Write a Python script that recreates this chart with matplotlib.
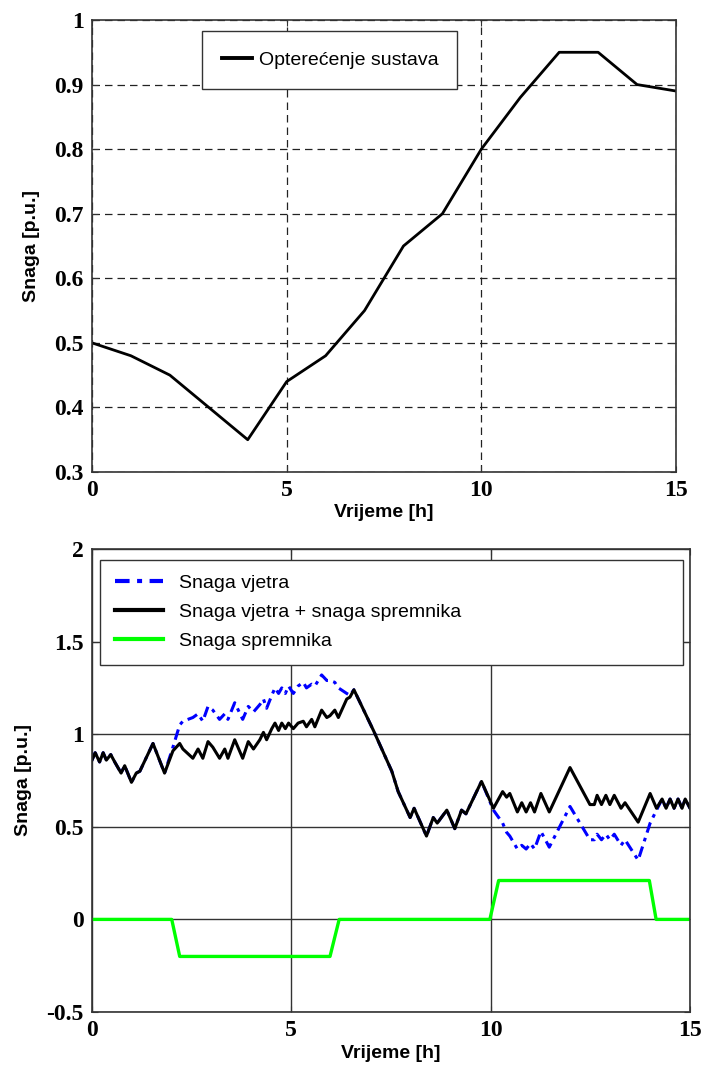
import matplotlib
matplotlib.use('Agg')
import matplotlib.pyplot as plt
from matplotlib.font_manager import FontProperties

# --- gornji graf: opterecenje sustava ---
sati = [0, 1, 2, 3, 4, 5, 6, 7, 8, 9, 10, 11, 12, 13, 14, 15]
opterecenje = [0.50, 0.48, 0.45, 0.40, 0.35, 0.44, 0.48, 0.55, 0.65, 0.70,
               0.80, 0.88, 0.95, 0.95, 0.90, 0.89]

# --- donji graf: snaga vjetra i spremnika ---
t_snaga = [0.00, 0.08, 0.19, 0.28, 0.36, 0.47, 0.57, 0.73, 0.82, 0.99,
           1.11, 1.20, 1.53, 1.82, 2.03, 2.20, 2.28, 2.53, 2.66, 2.78,
           2.91, 3.03, 3.20, 3.33, 3.41, 3.58, 3.78, 3.92, 4.05, 4.21,
           4.30, 4.38, 4.51, 4.59, 4.68, 4.76, 4.85, 4.93, 5.05, 5.17,
           5.30, 5.38, 5.51, 5.59, 5.76, 5.89, 5.97, 6.09, 6.18, 6.39,
           6.47, 6.57, 7.06, 7.52, 7.68, 7.98, 8.08, 8.39, 8.56, 8.66,
           8.90, 9.10, 9.27, 9.38, 9.77, 10.07, 10.30, 10.40, 10.48, 10.67,
           10.78, 10.89, 11.00, 11.10, 11.26, 11.47, 11.99, 12.49, 12.60, 12.67,
           12.78, 12.89, 12.99, 13.10, 13.27, 13.37, 13.70, 14.00, 14.16, 14.30,
           14.40, 14.50, 14.60, 14.70, 14.80, 14.88, 15.00]
snaga_ukupno = [0.86, 0.90, 0.85, 0.90, 0.86, 0.89, 0.85, 0.79, 0.83, 0.74,
                0.79, 0.80, 0.95, 0.79, 0.91, 0.95, 0.92, 0.87, 0.92, 0.87,
                0.96, 0.93, 0.87, 0.92, 0.87, 0.97, 0.87, 0.96, 0.92, 0.97,
                1.01, 0.97, 1.03, 1.06, 1.02, 1.06, 1.03, 1.06, 1.03, 1.06,
                1.07, 1.04, 1.08, 1.04, 1.13, 1.09, 1.10, 1.13, 1.09, 1.19,
                1.20, 1.24, 1.02, 0.80, 0.69, 0.55, 0.60, 0.45, 0.55, 0.52,
                0.59, 0.49, 0.59, 0.57, 0.745, 0.60, 0.69, 0.66, 0.68, 0.58,
                0.63, 0.58, 0.63, 0.58, 0.68, 0.58, 0.82, 0.62, 0.62, 0.67,
                0.62, 0.67, 0.62, 0.67, 0.60, 0.63, 0.525, 0.68, 0.60, 0.65,
                0.60, 0.65, 0.60, 0.65, 0.60, 0.65, 0.60]
snaga_vjetra = [0.86, 0.90, 0.85, 0.90, 0.86, 0.89, 0.85, 0.79, 0.83, 0.74,
                0.79, 0.80, 0.95, 0.79, 0.93, 1.05, 1.07, 1.09, 1.11, 1.07,
                1.15, 1.13, 1.08, 1.11, 1.08, 1.17, 1.08, 1.15, 1.12, 1.16,
                1.19, 1.14, 1.21, 1.25, 1.22, 1.25, 1.22, 1.26, 1.22, 1.26,
                1.28, 1.25, 1.27, 1.26, 1.32, 1.29, 1.29, 1.28, 1.25, 1.22,
                1.21, 1.24, 1.02, 0.80, 0.69, 0.55, 0.60, 0.45, 0.55, 0.52,
                0.59, 0.49, 0.59, 0.57, 0.745, 0.59, 0.52, 0.47, 0.45, 0.38,
                0.40, 0.38, 0.41, 0.38, 0.475, 0.39, 0.61, 0.43, 0.43, 0.46,
                0.43, 0.46, 0.43, 0.46, 0.40, 0.43, 0.32, 0.52, 0.59, 0.65,
                0.60, 0.65, 0.60, 0.65, 0.60, 0.65, 0.60]
t_spremnik = [0, 2.0, 2.2, 5.97, 6.2, 9.98, 10.2, 13.98, 14.15, 15]
snaga_spremnika = [0, 0, -0.2, -0.2, 0, 0, 0.21, 0.21, 0, 0]

oznake_x = ['0', '5', '10', '15']
oznake_y_gore = ['0.3', '0.4', '0.5', '0.6', '0.7', '0.8', '0.9', '1']
oznake_y_dolje = ['-0.5', '0', '0.5', '1', '1.5', '2']

tick_font = dict(family='Liberation Serif', weight='bold', size=17)
label_font = dict(family='Liberation Sans', weight='bold', size=14)
legend_font = dict(family='Liberation Sans', size=14)

fig = plt.figure(figsize=(7.04, 10.68), dpi=100)

def uredi_osi(ax, grid_ls, grid_color):
    for s in ax.spines.values():
        s.set_color('#333333')
        s.set_linewidth(1.2)
    ax.tick_params(direction='in', length=4, top=True, right=True, pad=6,
                   color='#333333')
    for lab in ax.get_xticklabels() + ax.get_yticklabels():
        lab.set_fontproperties(FontProperties(**tick_font))
    if grid_ls == 'dashed':
        ax.grid(True, color=grid_color, linewidth=0.9, linestyle=(0, (6, 4)))
    else:
        ax.grid(True, color=grid_color, linewidth=1.0, linestyle='-')
    ax.set_axisbelow(True)

# ---- GORNJI GRAF ----
ax1 = fig.add_axes([92/704, 1-472/1068, (676-92)/704, (472-20)/1068])
ax1.plot(sati, opterecenje, color='black', linewidth=2.0, label='Opterećenje sustava')
ax1.set_xlim(0, 15)
ax1.set_ylim(0.3, 1.0)
ax1.set_xticks([0, 5, 10, 15])
ax1.set_xticklabels(oznake_x)
ax1.set_yticks([0.3, 0.4, 0.5, 0.6, 0.7, 0.8, 0.9, 1.0])
ax1.set_yticklabels(oznake_y_gore)
uredi_osi(ax1, 'dashed', '#222222')
ax1.set_xlabel('Vrijeme [h]', labelpad=2, **label_font)
ax1.set_ylabel('Snaga [p.u.]', labelpad=10, **label_font)
leg1 = ax1.legend(loc='upper left',
                  bbox_to_anchor=((202-92)/584, (472-31)/452 - 0.01, (457-202)/584, 0.01),
                  mode='expand', prop=legend_font, fancybox=False, framealpha=1,
                  edgecolor='#333333', borderpad=1.05, handlelength=1.5,
                  handletextpad=0.4, borderaxespad=0)
leg1.get_frame().set_linewidth(1.0)
for h in leg1.legend_handles:
    h.set_linewidth(2.8)

# ---- DONJI GRAF ----
ax2 = fig.add_axes([92/704, 1-1012/1068, (690-92)/704, (1012-549)/1068])
ax2.plot(t_snaga, snaga_vjetra, color='#0000ff', linewidth=2.2,
         dashes=(3.5, 1.8, 1.2, 1.8), label='Snaga vjetra')
ax2.plot(t_snaga, snaga_ukupno, color='black', linewidth=2.2,
         label='Snaga vjetra + snaga spremnika')
ax2.plot(t_spremnik, snaga_spremnika, color='#00ff00', linewidth=2.4,
         label='Snaga spremnika')
ax2.set_xlim(0, 15)
ax2.set_ylim(-0.5, 2.0)
ax2.set_xticks([0, 5, 10, 15])
ax2.set_xticklabels(oznake_x)
ax2.set_yticks([-0.5, 0, 0.5, 1.0, 1.5, 2.0])
ax2.set_yticklabels(oznake_y_dolje)
uredi_osi(ax2, 'solid', '#333333')
ax2.set_xlabel('Vrijeme [h]', labelpad=3, **label_font)
ax2.set_ylabel('Snaga [p.u.]', labelpad=10, **label_font)
leg2 = ax2.legend(loc='upper left',
                  bbox_to_anchor=((100-92)/598, (1012-560)/463 - 0.01, (683-100)/598, 0.01),
                  mode='expand', prop=legend_font, fancybox=False, framealpha=1,
                  edgecolor='#333333', borderpad=0.75, handlelength=2.5,
                  handletextpad=0.8, labelspacing=0.58, borderaxespad=0)
leg2.get_frame().set_linewidth(1.0)
for h in leg2.legend_handles:
    h.set_linewidth(3.0)

fig.savefig('out.png', dpi=100)
